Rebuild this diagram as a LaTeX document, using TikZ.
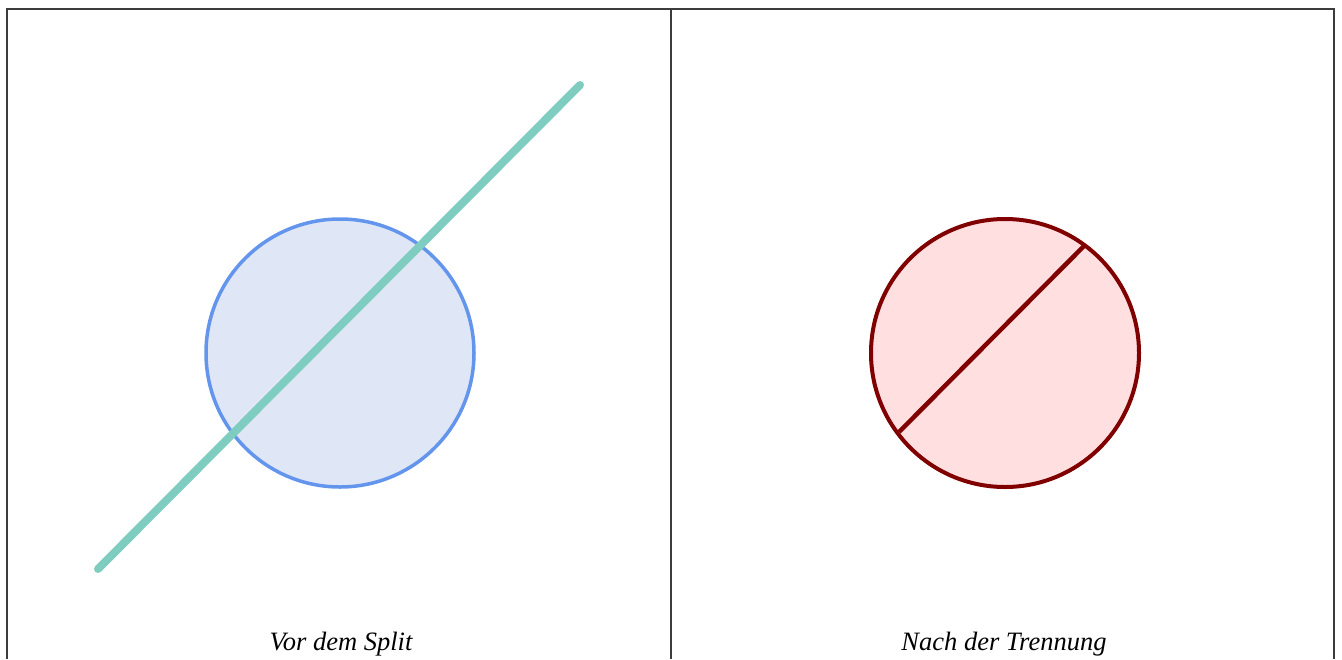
\documentclass[tikz,border=0pt]{standalone}
\usepackage{fontspec}
\setmainfont{Liberation Serif}
\usepackage{xcolor}
\definecolor{FrameGray}{RGB}{60,60,60}
\definecolor{SplitGreen}{RGB}{127,205,193}
\definecolor{BeforeBlue}{RGB}{100,149,237}
\definecolor{BeforeFill}{RGB}{223,230,245}
\definecolor{AfterRed}{RGB}{128,0,0}
\definecolor{AfterFill}{RGB}{255,223,224}
\usetikzlibrary{
    calc
}
\tikzset{
    caption/.style={
        font=\fontsize{26.5}{31}\selectfont\itshape,
        anchor=base
    }
}

\begin{document}
\begin{tikzpicture}[x=1pt,y=-1pt]
%
    \useasboundingbox
    (0,0)
    rectangle
    (1342,659);
%
    % panel frame, open at the bottom
%
    \draw[
        FrameGray,
        line width=1.5pt
    ]
    (7,659)
    --
    (7,9)
    --
    (1334,9)
    --
    (1334,659);
%
    \draw[
        FrameGray,
        line width=1.5pt
    ]
    (671,9)
    --
    (671,659);
%
    \coordinate (before) at (340,353);
    \coordinate (after) at (1005,353);
%
    % left panel: circle and cutting line
%
    \draw[
        BeforeBlue,
        fill=BeforeFill,
        line width=3.5pt
    ]
    (before)
    circle
    (134);
%
    \coordinate (cutA) at (98,569);
    \coordinate (cutB) at (580,85);
%
    \draw[
        SplitGreen,
        line width=8pt,
        line cap=round
    ]
    (cutA)
    --
    (cutB);
%
    % right panel: the two halves
%
    \draw[
        AfterRed,
        fill=AfterFill,
        line width=4pt
    ]
    (after)
    circle
    (134);
%
    \coordinate (chordA) at (899,432);
    \coordinate (chordB) at (1085,245);
%
    \draw[
        AfterRed,
        line width=4.5pt
    ]
    (chordA)
    --
    (chordB);
%
    \node[
        caption
    ]
    (capBefore) at (341,650) {
        Vor dem Split
    };
%
    \node[
        caption
    ]
    (capAfter) at (1004,650) {
        Nach der Trennung
    };
%
\end{tikzpicture}
\end{document}
